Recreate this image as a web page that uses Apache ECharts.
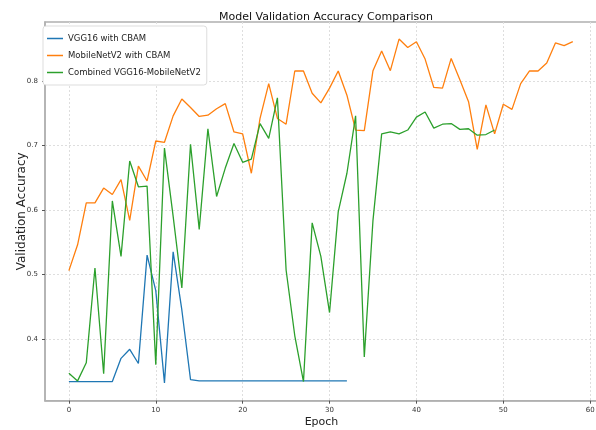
<!DOCTYPE html>
<html>
<head>
<meta charset="utf-8">
<script src="https://cdn.jsdelivr.net/npm/echarts@6/dist/echarts.min.js"></script>
<style>
html,body{margin:0;padding:0;background:#fff;}
#c{width:596px;height:430px;}
</style>
</head>
<body>
<div id="c"></div>
<script>
var seriesNames = ['VGG16 with CBAM', 'MobileNetV2 with CBAM', 'Combined VGG16-MobileNetV2'];
var vgg16 = [0.334,0.334,0.334,0.334,0.334,0.334,0.370,0.384,0.362,0.530,0.475,0.332,0.535,0.445,0.337,0.335,
  0.335,0.335,0.335,0.335,0.335,0.335,0.335,0.335,0.335,0.335,0.335,0.335,0.335,0.335,0.335,0.335,0.335];
var mobilenet = [0.506,0.546,0.611,0.611,0.634,0.624,0.647,0.584,0.668,0.645,0.707,0.705,0.746,0.772,0.759,0.745,
  0.747,0.757,0.765,0.721,0.718,0.657,0.742,0.796,0.742,0.733,0.8155,0.8155,0.781,0.766,0.789,0.8155,0.778,0.724,
  0.723,0.816,0.8465,0.816,0.865,0.852,0.861,0.834,0.790,0.789,0.835,0.802,0.768,0.694,0.763,0.718,0.764,0.756,
  0.796,0.8155,0.8155,0.828,0.859,0.855,0.861];
var combined = [0.347,0.335,0.363,0.510,0.346,0.614,0.528,0.676,0.636,0.637,0.360,0.696,0.590,0.479,0.702,0.570,
  0.726,0.621,0.665,0.703,0.674,0.679,0.734,0.711,0.774,0.507,0.405,0.334,0.580,0.528,0.441,0.597,0.657,0.746,
  0.372,0.584,0.718,0.721,0.718,0.724,0.744,0.752,0.727,0.733,0.734,0.725,0.726,0.716,0.717,0.724];
var xTicks = [0, 10, 20, 30, 40, 50, 60];
var yTicks = [0.4, 0.5, 0.6, 0.7, 0.8];
var colors = ['#1f77b4', '#ff7f0e', '#2ca02c'];

function pairs(arr){ return arr.map(function(v,i){ return [i, v]; }); }

var FONT = "'DejaVu Sans', sans-serif";

var chart = echarts.init(document.getElementById('c'), null, {renderer: 'canvas'});
var lineSeries = [vgg16, mobilenet, combined].map(function(arr, k){
  return {
    name: seriesNames[k], type: 'line', data: pairs(arr), symbol: 'none',
    lineStyle: {color: colors[k], width: 1.3}, itemStyle: {color: colors[k]},
    animation: false, z: 3 + k
  };
});

chart.setOption({
  animation: false,
  backgroundColor: '#ffffff',
  title: {
    text: 'Model Validation Accuracy Comparison', left: 321, top: 7, textAlign: 'center',
    textStyle: {fontFamily: FONT, fontSize: 11, fontWeight: 'normal', color: '#111'}
  },
  legend: {
    orient: 'vertical', left: 43, top: 26, data: seriesNames,
    icon: 'rect', itemWidth: 16, itemHeight: 1.5, itemGap: 8,
    backgroundColor: '#fff', borderColor: '#ddd', borderWidth: 1, borderRadius: 3,
    padding: [8, 6, 8, 4],
    textStyle: {fontFamily: FONT, fontSize: 8.5, color: '#222', lineHeight: 9}
  },
  grid: {left: 45, top: 22, right: -2, bottom: 29.3, show: true, borderColor: '#b0b0b0', borderWidth: 1.5,
    containLabel: false, outerBoundsMode: 'none'},
  xAxis: {
    type: 'value', min: -2.75, max: 60.9,
    name: 'Epoch', nameLocation: 'middle', nameGap: 16, nameMoveOverlap: false,
    nameTextStyle: {fontFamily: FONT, fontSize: 11, color: '#222'},
    axisLine: {show: true, onZero: false, lineStyle: {color: '#b0b0b0', width: 1.5}},
    axisTick: {show: true, length: 3, lineStyle: {color: '#555'}, customValues: xTicks},
    axisLabel: {fontFamily: FONT, fontSize: 7, color: '#333', margin: 6, customValues: xTicks},
    splitLine: {show: true, lineStyle: {color: '#dedede', type: [2, 2], width: 1}}
  },
  yAxis: {
    type: 'value', min: 0.3043, max: 0.8915,
    name: 'Validation Accuracy', nameLocation: 'middle', nameGap: 17, nameRotate: 90, nameMoveOverlap: false,
    nameTextStyle: {fontFamily: FONT, fontSize: 12, color: '#222'},
    axisLine: {show: true, onZero: false, lineStyle: {color: '#b0b0b0', width: 1.5}},
    axisTick: {show: true, length: 3, lineStyle: {color: '#555'}, customValues: yTicks},
    axisLabel: {fontFamily: FONT, fontSize: 7, color: '#333', margin: 7, customValues: yTicks,
      formatter: function(v){ return v.toFixed(1); }},
    splitLine: {show: true, lineStyle: {color: '#dedede', type: [2, 2], width: 1}}
  },
  series: lineSeries
});
</script>
</body>
</html>
